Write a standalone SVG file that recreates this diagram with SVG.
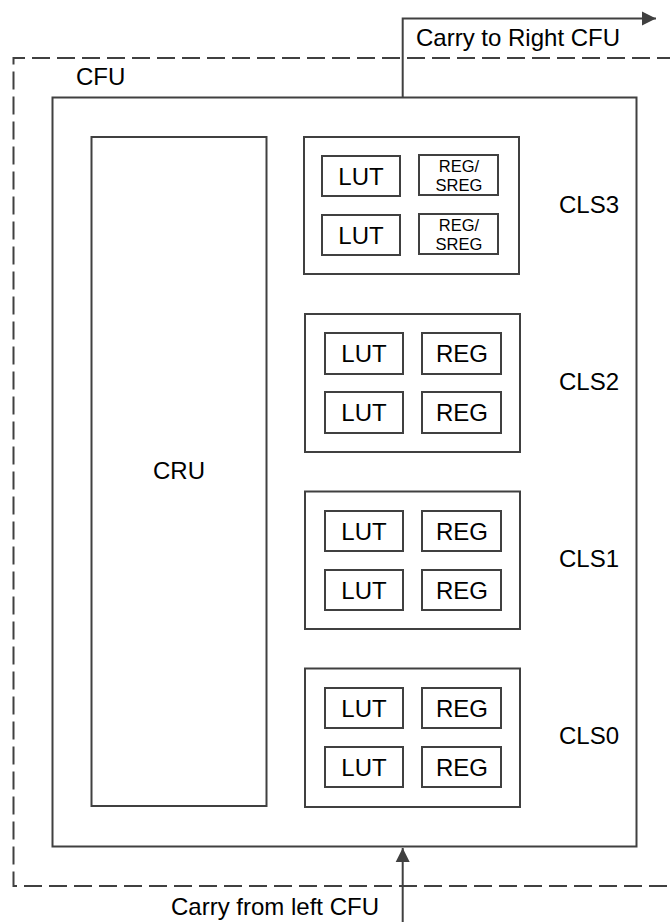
<svg xmlns="http://www.w3.org/2000/svg" width="670" height="922" viewBox="0 0 670 922">
<style>
  .box { fill: none; stroke: #404040; stroke-width: 2; }
  .dash { fill: none; stroke: #404040; stroke-width: 2; stroke-dasharray: 18 7; }
  .wire { fill: none; stroke: #404040; stroke-width: 2; }
  text { font-family: "Liberation Sans", Arial, sans-serif; fill: #000; }
  .t24 { font-size: 24px; }
  .t17 { font-size: 16.5px; }
  .mid { text-anchor: middle; }
</style>
<defs>
  <marker id="arrow" markerUnits="userSpaceOnUse" markerWidth="16" markerHeight="16" viewBox="0 0 16 16" refX="15" refY="8" orient="auto">
    <path d="M1,1 L15,8 L1,15 Z" fill="#404040"/>
  </marker>
</defs>
<rect width="670" height="922" fill="#fff"/>

<g id="cfu-boundary">
  <path class="dash" d="M700,58 H13.5 V886 H700"/>
  <text class="t24" x="76" y="85">CFU</text>
</g>

<g id="cfu">
  <rect class="box" x="52.5" y="97.5" width="584" height="749"/>
</g>

<g id="cru">
  <rect class="box" x="91.5" y="137" width="175" height="669"/>
  <text class="t24 mid" x="179" y="479">CRU</text>
</g>

<g id="cls3">
  <rect class="box" x="304" y="137" width="215" height="137"/>
  <rect class="box" x="322" y="156" width="78" height="40"/>
  <text class="t24 mid" x="361" y="184.5">LUT</text>
  <rect class="box" x="322" y="215" width="78" height="40"/>
  <text class="t24 mid" x="361" y="243.5">LUT</text>
  <rect class="box" x="419" y="155" width="79" height="40"/>
  <text class="t17 mid" x="459" y="172">REG/</text>
  <text class="t17 mid" x="459" y="191">SREG</text>
  <rect class="box" x="419" y="214" width="79" height="40"/>
  <text class="t17 mid" x="459" y="231">REG/</text>
  <text class="t17 mid" x="459" y="250">SREG</text>
  <text class="t24" x="559" y="213">CLS3</text>
</g>

<g id="cls2">
  <rect class="box" x="305" y="314" width="215" height="138"/>
  <rect class="box" x="325" y="333" width="78" height="41"/>
  <text class="t24 mid" x="364" y="362">LUT</text>
  <rect class="box" x="325" y="392" width="78" height="41"/>
  <text class="t24 mid" x="364" y="421">LUT</text>
  <rect class="box" x="422" y="333" width="79" height="41"/>
  <text class="t24 mid" x="462" y="362">REG</text>
  <rect class="box" x="422" y="392" width="79" height="41"/>
  <text class="t24 mid" x="462" y="421">REG</text>
  <text class="t24" x="559" y="390">CLS2</text>
</g>

<g id="cls1">
  <rect class="box" x="305" y="491.5" width="215" height="137.5"/>
  <rect class="box" x="325" y="511" width="78" height="40"/>
  <text class="t24 mid" x="364" y="539.5">LUT</text>
  <rect class="box" x="325" y="570" width="78" height="40"/>
  <text class="t24 mid" x="364" y="598.5">LUT</text>
  <rect class="box" x="422" y="511" width="79" height="40"/>
  <text class="t24 mid" x="462" y="539.5">REG</text>
  <rect class="box" x="422" y="570" width="79" height="40"/>
  <text class="t24 mid" x="462" y="598.5">REG</text>
  <text class="t24" x="559" y="567">CLS1</text>
</g>

<g id="cls0">
  <rect class="box" x="305" y="668.5" width="215" height="138.5"/>
  <rect class="box" x="325" y="688" width="78" height="40"/>
  <text class="t24 mid" x="364" y="716.5">LUT</text>
  <rect class="box" x="325" y="747" width="78" height="40"/>
  <text class="t24 mid" x="364" y="775.5">LUT</text>
  <rect class="box" x="422" y="688" width="79" height="40"/>
  <text class="t24 mid" x="462" y="716.5">REG</text>
  <rect class="box" x="422" y="747" width="79" height="40"/>
  <text class="t24 mid" x="462" y="775.5">REG</text>
  <text class="t24" x="559" y="744">CLS0</text>
</g>

<g id="connectors">
  <path class="wire" d="M402.7,97.5 V18.5 H656" marker-end="url(#arrow)"/>
  <text class="t24" x="416" y="46">Carry to Right CFU</text>
  <path class="wire" d="M402.7,922 V848" marker-end="url(#arrow)"/>
  <text class="t24" x="171" y="915">Carry from left CFU</text>
</g>
</svg>
